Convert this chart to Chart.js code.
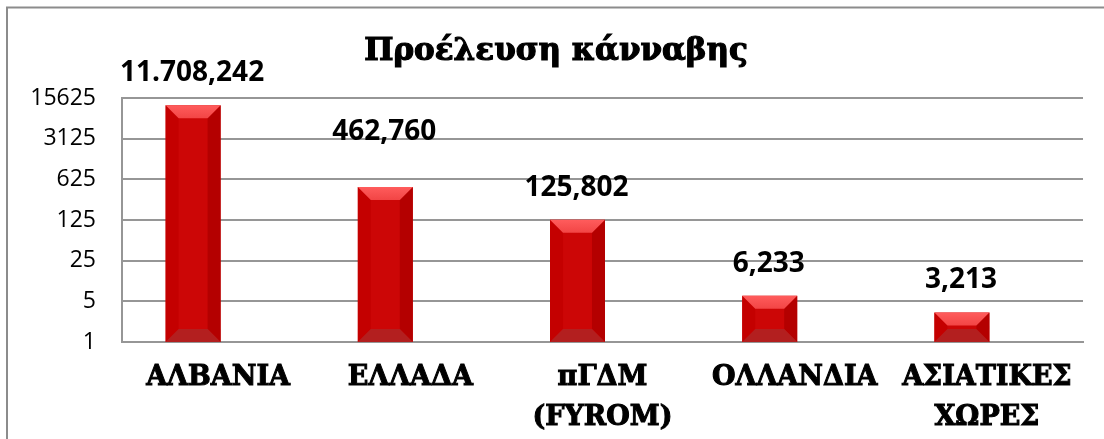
<!DOCTYPE html>
<html>
<head>
<meta charset="utf-8">
<script src="https://cdn.jsdelivr.net/npm/chart.js@4/dist/chart.umd.min.js"></script>
<style>
  body { margin: 0; background: #fff; }
  #wrap { width: 1104px; height: 439px; position: relative; }
</style>
</head>
<body>
<div id="wrap"><canvas id="chart"></canvas></div>
<script>
// Προέλευση κάνναβης - values per country
const categories = ['ΑΛΒΑΝΙΑ', 'ΕΛΛΑΔΑ', ['πΓΔΜ', '(FYROM)'], 'ΟΛΛΑΝΔΙΑ', ['ΑΣΙΑΤΙΚΕΣ', 'ΧΩΡΕΣ']];
const values = [11708.242, 462.760, 125.802, 6.233, 3.213];
const yTicks = [1, 5, 25, 125, 625, 3125, 15625];
const titleText = 'Προέλευση κάνναβης';

// greek style number: 11.708,242
function fmt(v) {
    const parts = v.toFixed(3).split('.');
    const intPart = parts[0].replace(/\B(?=(\d{3})+(?!\d))/g, '.');
    return intPart + ',' + parts[1];
}

const framePlugin = {
    id: 'frame',
    beforeDraw(chart) {
        const ctx = chart.ctx;
        ctx.save();
        ctx.fillStyle = '#fff';
        ctx.fillRect(0, 0, chart.width, chart.height);
        ctx.strokeStyle = '#8c8c8c';
        ctx.lineWidth = 2;
        ctx.strokeRect(7, 7.5, chart.width + 20, chart.height + 20);
        ctx.restore();
    },
    afterDraw(chart) {
        const ctx = chart.ctx;
        ctx.save();
        ctx.fillStyle = '#000';
        ctx.strokeStyle = '#000';
        ctx.lineWidth = 1.2;
        ctx.font = 'bold 31px "DejaVu Serif"';
        ctx.textAlign = 'center';
        ctx.textBaseline = 'alphabetic';
        ctx.fillText(titleText, chart.width / 2 + 4, 60);
        ctx.strokeText(titleText, chart.width / 2 + 4, 60);
        ctx.restore();
    }
};

// bevelled bars + value labels on top
const bevelPlugin = {
    id: 'bevel',
    afterDatasetsDraw(chart) {
        const ctx = chart.ctx;
        const meta = chart.getDatasetMeta(0);
        ctx.save();
        meta.data.forEach(function (bar, i) {
            const p = bar.getProps(['x', 'y', 'base', 'width'], true);
            const L = p.x - p.width / 2, R = p.x + p.width / 2;
            const T = p.y, B = p.base;
            const b = Math.min(13, (B - T) / 2, p.width / 2);
            const poly = function (pts, color) {
                ctx.beginPath();
                ctx.moveTo(pts[0][0], pts[0][1]);
                for (let k = 1; k < pts.length; k++) ctx.lineTo(pts[k][0], pts[k][1]);
                ctx.closePath();
                ctx.fillStyle = color;
                ctx.fill();
            };
            poly([[L, T], [L + b, T + b], [L + b, B - b], [L, B]], '#c40000');
            poly([[R, T], [R - b, T + b], [R - b, B - b], [R, B]], '#b40000');
            poly([[L, B], [R, B], [R - b, B - b], [L + b, B - b]], '#b31f1f');
            const g = ctx.createLinearGradient(0, T, 0, T + b);
            g.addColorStop(0, '#ff5c5c');
            g.addColorStop(1, '#f24545');
            poly([[L, T], [R, T], [R - b, T + b], [L + b, T + b]], g);

            // value label (greece one sits higher in the original)
            const lift = i === 1 ? 55 : 32;
            ctx.fillStyle = '#000';
            ctx.font = 'bold 28px "Open Sans"';
            ctx.textAlign = 'center';
            ctx.textBaseline = 'middle';
            ctx.fillText(fmt(values[i]), p.x - 1, T - lift);
        });
        ctx.restore();
    }
};

const ctx = document.getElementById('chart').getContext('2d');
const chart = new Chart(ctx, {
    type: 'bar',
    data: {
        labels: categories,
        datasets: [{
            label: 'Προέλευση',
            data: values,
            backgroundColor: '#cc0606',
            borderWidth: 0,
            categoryPercentage: 0.52,
            barPercentage: 1.1
        }, {
            label: 'spacer',
            data: values.map(() => null),
            categoryPercentage: 0.52,
            barPercentage: 1.1
        }]
    },
    options: {
        responsive: true,
        maintainAspectRatio: false,
        animation: false,
        layout: { padding: { top: 98, right: 21, left: 0, bottom: 0 } },
        plugins: {
            legend: { display: false },
            title: { display: false },
            tooltip: { enabled: false }
        },
        scales: {
            x: {
                grid: { display: false, drawTicks: false },
                border: { display: true, color: '#969696', width: 2 },
                ticks: {
                    color: '#000',
                    textStrokeColor: '#000',
                    textStrokeWidth: 1,
                    padding: 16,
                    maxRotation: 0,
                    autoSkip: false,
                    font: { family: '"DejaVu Serif"', size: 27, weight: 'bold', lineHeight: 40 / 27 }
                },
                afterFit(scale) { scale.height = 97; }
            },
            y: {
                type: 'logarithmic',
                min: 1,
                max: 15625,
                afterBuildTicks(scale) {
                    scale.ticks = yTicks.map(v => ({ value: v }));
                },
                grid: { color: '#969696', lineWidth: 2, drawTicks: false },
                border: { display: true, color: '#969696', width: 2 },
                ticks: {
                    color: '#000',
                    padding: 26,
                    font: { family: '"Open Sans"', size: 23 },
                    callback: v => String(v)
                },
                afterFit(scale) { scale.width = 122; }
            }
        }
    },
    plugins: [framePlugin, bevelPlugin]
});
</script>
</body>
</html>
